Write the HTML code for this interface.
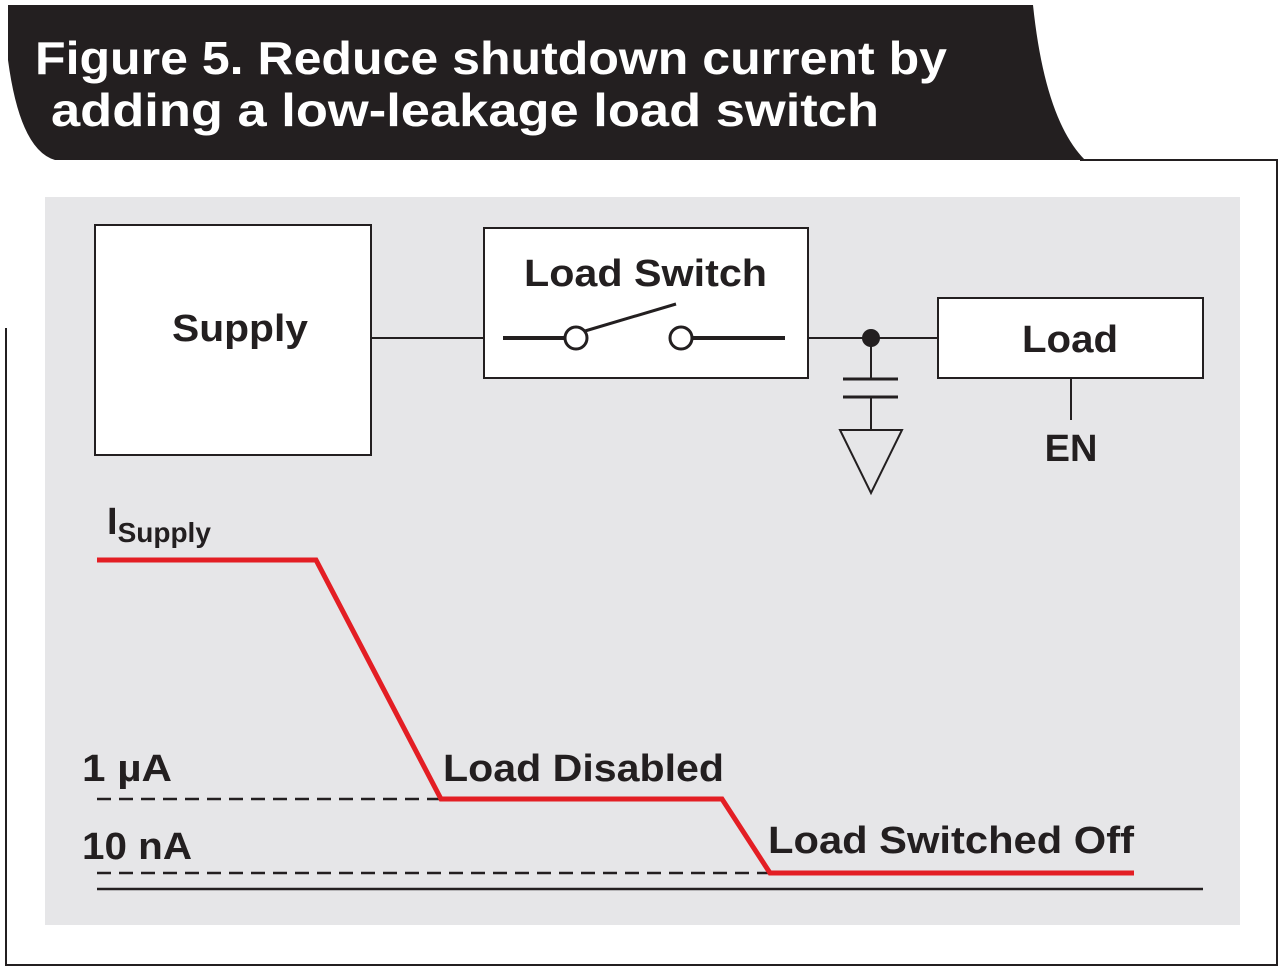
<!DOCTYPE html>
<html><head><meta charset="utf-8"><style>html,body{margin:0;padding:0;background:#fff;}svg{display:block}</style></head>
<body>
<svg width="1280" height="969" viewBox="0 0 1280 969" xmlns="http://www.w3.org/2000/svg" font-family="Liberation Sans, Arial, sans-serif" font-weight="bold">
<path d="M8,5 L1033,5 Q1045,120 1085,160 L55,160 Q20,150 8,60 Z" fill="#231f20"/>
<text x="35" y="74" font-size="46" fill="#fff" textLength="912" lengthAdjust="spacingAndGlyphs">Figure 5. Reduce shutdown current by</text>
<text x="51" y="126" font-size="46" fill="#fff" textLength="828" lengthAdjust="spacingAndGlyphs">adding a low-leakage load switch</text>
<polyline points="1080,160 1277,160 1277,965 6,965 6,328" fill="none" stroke="#231f20" stroke-width="2"/>
<rect x="45" y="197" width="1195" height="728" fill="#e6e6e8"/>
<g stroke="#231f20" stroke-width="2" fill="#fff">
<rect x="95" y="225" width="276" height="230"/>
<rect x="484" y="228" width="324" height="150"/>
<rect x="938" y="298" width="265" height="80"/>
</g>
<g stroke="#231f20" stroke-width="2" fill="none">
<line x1="371" y1="338" x2="484" y2="338"/>
<line x1="808" y1="338" x2="938" y2="338"/>
<line x1="871" y1="338" x2="871" y2="379"/>
<line x1="871" y1="397" x2="871" y2="430"/>
<polygon points="840,430 902,430 871,493"/>
<line x1="1071" y1="378" x2="1071" y2="420"/>
</g>
<g stroke="#231f20" stroke-width="4" fill="none">
<line x1="503" y1="338" x2="565" y2="338"/>
<line x1="692" y1="338" x2="785" y2="338"/>
<line x1="585" y1="331" x2="676" y2="304" stroke-width="3"/>
<line x1="843" y1="379" x2="898" y2="379" stroke-width="3"/>
<line x1="843" y1="397" x2="898" y2="397" stroke-width="3"/>
<circle cx="576" cy="338" r="11" fill="#fff" stroke-width="3"/>
<circle cx="681" cy="338" r="11" fill="#fff" stroke-width="3"/>
</g>
<circle cx="871" cy="338" r="9" fill="#231f20"/>
<g fill="#231f20" font-size="38">
<text x="172" y="341" textLength="136" lengthAdjust="spacingAndGlyphs">Supply</text>
<text x="524" y="286" textLength="243" lengthAdjust="spacingAndGlyphs">Load Switch</text>
<text x="1022" y="352" textLength="96" lengthAdjust="spacingAndGlyphs">Load</text>
<text x="1071" y="461" text-anchor="middle">EN</text>
<text x="107" y="534">I<tspan font-size="28" dy="8">Supply</tspan></text>
<text x="82" y="781" textLength="90" lengthAdjust="spacingAndGlyphs">1 µA</text>
<text x="82" y="859" textLength="110" lengthAdjust="spacingAndGlyphs">10 nA</text>
<text x="443" y="781" textLength="281" lengthAdjust="spacingAndGlyphs">Load Disabled</text>
<text x="768" y="853" textLength="366" lengthAdjust="spacingAndGlyphs">Load Switched Off</text>
</g>
<g stroke="#231f20" stroke-width="2.5" fill="none">
<line x1="97" y1="799" x2="441" y2="799" stroke-dasharray="14,8"/>
<line x1="97" y1="873" x2="770" y2="873" stroke-dasharray="14,8"/>
<line x1="97" y1="889" x2="1203" y2="889"/>
</g>
<polyline points="97,560 316,560 441,799 722,799 770,873 1134,873" fill="none" stroke="#e31e24" stroke-width="5"/>
</svg>
</body></html>
